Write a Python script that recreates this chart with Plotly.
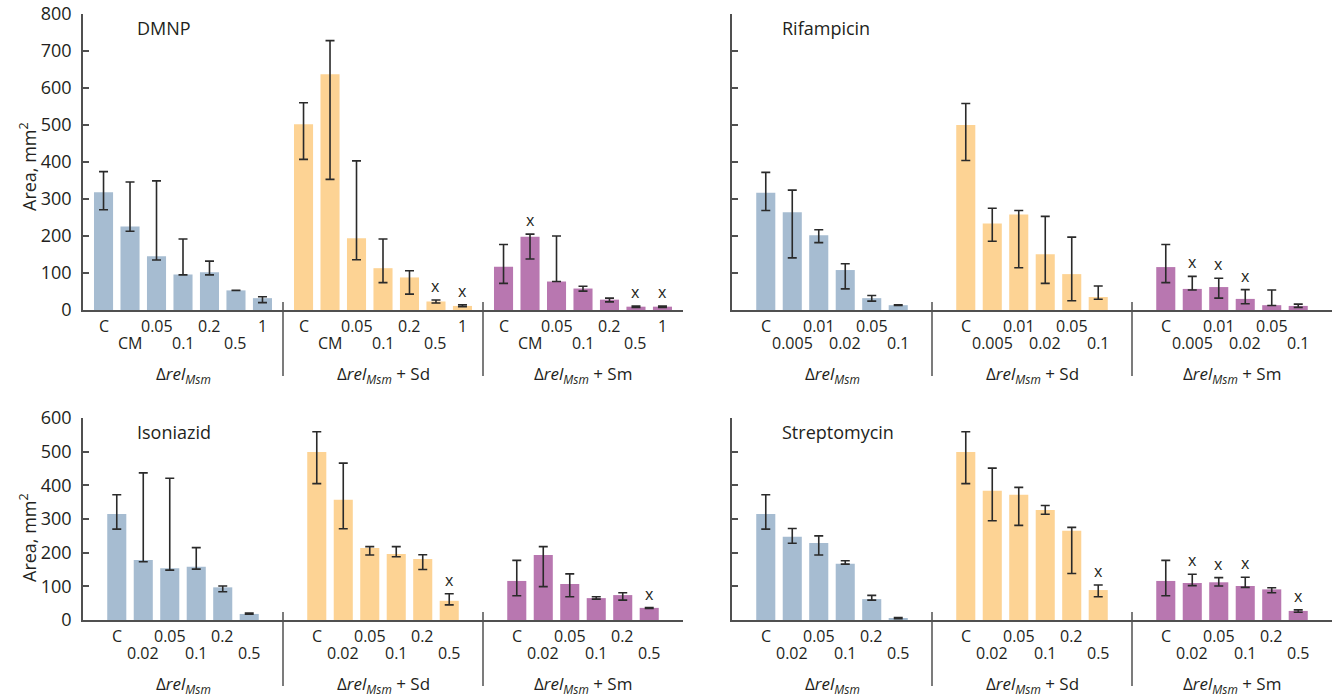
import plotly.graph_objects as go

# ---------------- data ----------------
GROUP_NAMES = ["Δ<i>rel</i><sub><i>Msm</i></sub>", "Δ<i>rel</i><sub><i>Msm</i></sub> + Sd",
               "Δ<i>rel</i><sub><i>Msm</i></sub> + Sm"]
GROUP_COLORS = ["#a6bcd1", "#fdd394", "#b877b0"]

# DMNP
DMNP_LABELS = ["C", "CM", "0.05", "0.1", "0.2", "0.5", "1"]
DMNP_MSM = [318, 226, 145, 96, 102, 53, 32]
DMNP_MSM_HI = [374, 346, 349, 192, 132, None, 36]
DMNP_MSM_LO = [271, 213, 135, 95, 95, None, 20]
DMNP_MSM_X = [0, 0, 0, 0, 0, 0, 0]
DMNP_SD = [502, 637, 194, 113, 88, 23, 11]
DMNP_SD_HI = [560, 728, 403, 192, 106, 27, 14]
DMNP_SD_LO = [407, 353, 136, 74, 43, 19, 9]
DMNP_SD_X = [0, 0, 0, 0, 0, 1, 1]
DMNP_SM = [117, 198, 77, 58, 28, 9, 9]
DMNP_SM_HI = [177, 205, 200, 64, 32, 11, 11]
DMNP_SM_LO = [72, 138, 77, 51, 22, 7, 7]
DMNP_SM_X = [0, 1, 0, 0, 0, 1, 1]

# Rifampicin
RIF_LABELS = ["C", "0.005", "0.01", "0.02", "0.05", "0.1"]
RIF_MSM = [317, 264, 202, 108, 32, 13]
RIF_MSM_HI = [372, 324, 217, 125, 39, 14]
RIF_MSM_LO = [269, 141, 182, 57, 24, 12]
RIF_MSM_X = [0, 0, 0, 0, 0, 0]
RIF_SD = [500, 234, 258, 151, 97, 35]
RIF_SD_HI = [558, 275, 269, 253, 197, 65]
RIF_SD_LO = [404, 186, 114, 72, 25, 29]
RIF_SD_X = [0, 0, 0, 0, 0, 0]
RIF_SM = [116, 57, 62, 30, 13, 11]
RIF_SM_HI = [177, 91, 86, 55, 54, 16]
RIF_SM_LO = [74, 54, 32, 17, 12, 7]
RIF_SM_X = [0, 1, 1, 1, 0, 0]

# Isoniazid
INH_LABELS = ["C", "0.02", "0.05", "0.1", "0.2", "0.5"]
INH_MSM = [315, 178, 154, 158, 97, 18]
INH_MSM_HI = [372, 437, 421, 215, 101, 21]
INH_MSM_LO = [270, 173, 148, 151, 84, 17]
INH_MSM_X = [0, 0, 0, 0, 0, 0]
INH_SD = [499, 357, 214, 196, 181, 57]
INH_SD_HI = [559, 466, 218, 218, 194, 78]
INH_SD_LO = [405, 271, 193, 188, 150, 45]
INH_SD_X = [0, 0, 0, 0, 0, 1]
INH_SM = [116, 193, 107, 65, 74, 36]
INH_SM_HI = [177, 218, 137, 69, 81, 37]
INH_SM_LO = [72, 99, 69, 62, 59, 34]
INH_SM_X = [0, 0, 0, 0, 0, 1]

# Streptomycin
STR_LABELS = ["C", "0.02", "0.05", "0.1", "0.2", "0.5"]
STR_MSM = [315, 247, 229, 167, 62, 5]
STR_MSM_HI = [372, 272, 250, 176, 73, 7]
STR_MSM_LO = [270, 228, 193, 166, 59, 4]
STR_MSM_X = [0, 0, 0, 0, 0, 0]
STR_SD = [499, 384, 372, 327, 265, 89]
STR_SD_HI = [559, 451, 394, 340, 275, 104]
STR_SD_LO = [405, 295, 281, 314, 138, 69]
STR_SD_X = [0, 0, 0, 0, 0, 1]
STR_SM = [116, 110, 112, 101, 91, 27]
STR_SM_HI = [177, 136, 126, 127, 96, 30]
STR_SM_LO = [72, 102, 101, 97, 81, 23]
STR_SM_X = [0, 1, 1, 1, 0, 1]

PANELS = [
    dict(title="DMNP", labels=DMNP_LABELS, ymax=800,
         groups=[(DMNP_MSM, DMNP_MSM_HI, DMNP_MSM_LO, DMNP_MSM_X),
                 (DMNP_SD, DMNP_SD_HI, DMNP_SD_LO, DMNP_SD_X),
                 (DMNP_SM, DMNP_SM_HI, DMNP_SM_LO, DMNP_SM_X)]),
    dict(title="Rifampicin", labels=RIF_LABELS, ymax=800,
         groups=[(RIF_MSM, RIF_MSM_HI, RIF_MSM_LO, RIF_MSM_X),
                 (RIF_SD, RIF_SD_HI, RIF_SD_LO, RIF_SD_X),
                 (RIF_SM, RIF_SM_HI, RIF_SM_LO, RIF_SM_X)]),
    dict(title="Isoniazid", labels=INH_LABELS, ymax=600,
         groups=[(INH_MSM, INH_MSM_HI, INH_MSM_LO, INH_MSM_X),
                 (INH_SD, INH_SD_HI, INH_SD_LO, INH_SD_X),
                 (INH_SM, INH_SM_HI, INH_SM_LO, INH_SM_X)]),
    dict(title="Streptomycin", labels=STR_LABELS, ymax=600,
         groups=[(STR_MSM, STR_MSM_HI, STR_MSM_LO, STR_MSM_X),
                 (STR_SD, STR_SD_HI, STR_SD_LO, STR_SD_X),
                 (STR_SM, STR_SM_HI, STR_SM_LO, STR_SM_X)]),
]

# ---------------- layout geometry ----------------
W, H = 1332, 697
FONT = "Open Sans"
TXT = "#231f20"
AX = "#505050"
SLOT = 7.55          # width of one group slot, in bar-spacing units
BARW = 0.72
# pixel geometry of the panels: (x_left, x_right, y_top, y_bottom)
PIX = [(83, 683, 14, 310), (732, 1332, 14, 310), (83, 683, 418, 620), (732, 1332, 418, 620)]

fig = go.Figure()
annotations = []
shapes = []

for p, panel in enumerate(PANELS):
    k = "" if p == 0 else str(p + 1)
    xa, ya = "x" + k, "y" + k
    xl, xr, yt, yb = PIX[p]
    n = len(panel["labels"])
    for g, (vals, hi, lo, marks) in enumerate(panel["groups"]):
        center = g * SLOT + SLOT / 2
        xs = [center + i - (n - 1) / 2 for i in range(n)]
        up = [None if h is None else h - v for v, h in zip(vals, hi)]
        dn = [None if l is None else v - l for v, l in zip(vals, lo)]
        fig.add_trace(go.Bar(
            x=xs, y=vals, width=BARW, marker=dict(color=GROUP_COLORS[g], line=dict(width=0)),
            error_y=dict(type="data", symmetric=False, array=up, arrayminus=dn,
                         color="#2a2a2a", thickness=1.6, width=4.5),
            xaxis=xa, yaxis=ya, showlegend=False, hoverinfo="skip"))
        # tick labels (two staggered rows)
        for i, lab in enumerate(panel["labels"]):
            annotations.append(dict(x=xs[i], y=0, xref=xa, yref=ya, text=lab, showarrow=False,
                                    yanchor="middle", xanchor="center",
                                    yshift=-(16 if i % 2 == 0 else 33),
                                    font=dict(family=FONT, size=16, color=TXT)))
            if marks[i]:
                top = hi[i] if hi[i] is not None else vals[i]
                annotations.append(dict(x=xs[i], y=top, xref=xa, yref=ya, text="x", showarrow=False,
                                        yanchor="bottom", xanchor="center", yshift=1,
                                        font=dict(family=FONT, size=16, color=TXT)))
        # group label
        annotations.append(dict(x=center, y=0, xref=xa, yref=ya, text=GROUP_NAMES[g], showarrow=False,
                                yanchor="middle", xanchor="center", yshift=-64,
                                font=dict(family=FONT, size=17, color=TXT)))
    # separators
    for s in (1, 2):
        shapes.append(dict(type="line", xref=xa, yref="paper", x0=s * SLOT, x1=s * SLOT,
                           y0=(H - (yb - 8)) / H, y1=(H - (yb + 66)) / H,
                           line=dict(color=AX, width=1.5)))
    # panel title
    annotations.append(dict(x=(xl + 52 if p % 2 == 0 else xl + 48) / W, y=(H - (yt + 14)) / H,
                            xref="paper", yref="paper", text=panel["title"], showarrow=False,
                            xanchor="left", yanchor="middle",
                            font=dict(family=FONT, size=18, color=TXT)))
    # y title
    if p % 2 == 0:
        annotations.append(dict(x=28 / W, y=(H - 167) / H if p == 0 else (H - 538) / H,
                                xref="paper", yref="paper", text="Area, mm<sup>2</sup>", showarrow=False,
                                textangle=-90, xanchor="center", yanchor="middle",
                                font=dict(family=FONT, size=18, color=TXT)))
    fig.layout["xaxis" + k] = dict(
        domain=[xl / W, xr / W], range=[0, 3 * SLOT], anchor=ya, automargin=False,
        showline=True, linecolor=AX, linewidth=1.5, showgrid=False, zeroline=False,
        ticks="", showticklabels=False, fixedrange=True)
    fig.layout["yaxis" + k] = dict(
        domain=[(H - yb) / H, (H - yt) / H], range=[0, panel["ymax"]], anchor=xa, automargin=False,
        showline=True, linecolor=AX, linewidth=1.5, showgrid=False, zeroline=False,
        ticks="inside", ticklen=6, tickcolor=AX, tickwidth=1.5, dtick=100,
        showticklabels=(p % 2 == 0), ticklabelstandoff=6,
        tickfont=dict(family=FONT, size=18, color=TXT), fixedrange=True)

fig.update_layout(width=W, height=H, margin=dict(l=0, r=0, t=0, b=0, autoexpand=False),
                  paper_bgcolor="white", plot_bgcolor="white",
                  barmode="overlay", annotations=annotations, shapes=shapes,
                  font=dict(family=FONT, color=TXT))
fig.write_html("out.html", config={"displayModeBar": False},
               post_script="document.body.style.margin='0';document.body.style.overflow='hidden';")
